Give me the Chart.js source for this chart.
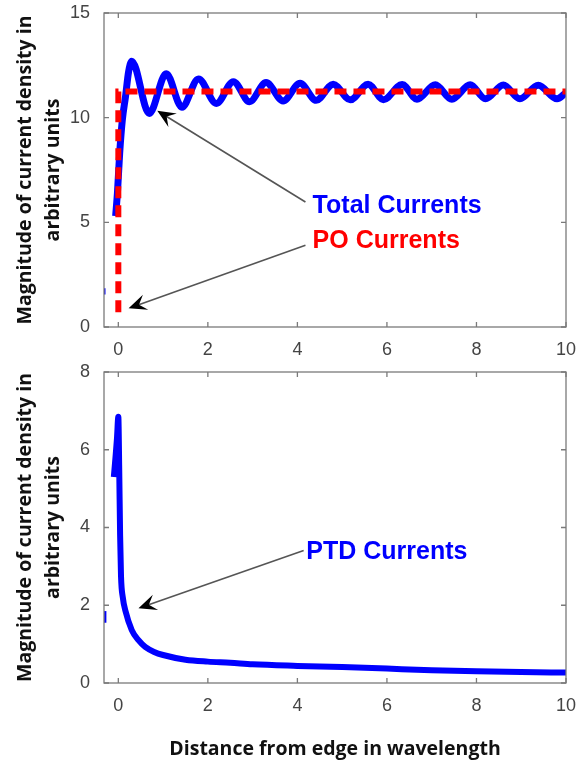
<!DOCTYPE html>
<html>
<head>
<meta charset="utf-8">
<script src="https://cdn.jsdelivr.net/npm/chart.js@4.4.0/dist/chart.umd.min.js"></script>
<style>
  body { margin: 0; background: #fff; }
  #wrap { position: relative; width: 576px; height: 765px; }
  canvas { position: absolute; left: 0; }
</style>
</head>
<body>
<div id="wrap">
  <canvas id="topChart" width="576" height="360" style="top:0"></canvas>
  <canvas id="bottomChart" width="576" height="405" style="top:360px"></canvas>
</div>
<script>
// tick labels
var xTicks = [0, 2, 4, 6, 8, 10];
var topYTicks = [0, 5, 10, 15];
var bottomYTicks = [0, 2, 4, 6, 8];

// total currents (rise, then peaks / troughs)
var totalX = [-0.06, -0.02, 0.03, 0.09, 0.16, 0.23, 0.30, 0.69, 1.07, 1.42, 1.79, 2.19, 2.57, 2.93, 3.30, 3.68,
              4.06, 4.42, 4.80, 5.18, 5.58, 5.92, 6.34, 6.67, 7.08, 7.45, 7.86, 8.20, 8.60, 8.97, 9.38, 9.80, 10.0];
var totalY = [5.3, 6.4, 8.3, 9.9, 11.0, 12.2, 12.7, 10.2, 12.1, 10.5, 11.85, 10.68, 11.72, 10.76, 11.68, 10.8,
              11.64, 10.83, 11.6, 10.85, 11.6, 10.86, 11.58, 10.88, 11.57, 10.88, 11.57, 10.9, 11.56, 10.9, 11.55, 10.9, 11.2];
var totalEdgeX = [-0.32, -0.32];
var totalEdgeY = [1.55, 1.85];

// PO currents
var poX = [0, 0, 10];
var poY = [0.7, 11.25, 11.25];

// PTD currents (bottom panel)
var ptdX = [-0.10, -0.03, 0.0, 0.02, 0.04, 0.06, 0.10, 0.16, 0.30, 0.45, 0.60, 0.80, 1.0, 1.5, 2.0, 2.5, 3.0,
            4.0, 5.0, 6.0, 7.0, 8.0, 9.0, 10.0];
var ptdY = [5.3, 6.3, 6.85, 5.5, 3.8, 2.75, 2.2, 1.85, 1.36, 1.1, 0.93, 0.8, 0.72, 0.6, 0.55, 0.52, 0.48,
            0.44, 0.41, 0.37, 0.33, 0.3, 0.28, 0.27];
var ptdEdgeX = [-0.3, -0.3];
var ptdEdgeY = [1.55, 1.85];

var labelsTop = ['Total Currents', 'PO Currents'];
var labelsBottom = ['PTD Currents'];

var BLUE = '#0000ff';
var RED = '#ff0000';
var TICK_GRAY = '#444';

function pts(xs, ys) {
  return xs.map(function(x, i) { return {x: x, y: ys[i]}; });
}

// notes are placed in data units, converted through the chart's scales
var topNotes = [
  {text: labelsTop[0], color: BLUE, at: [4.34, 5.43], from: [4.18, 5.97], to: [0.87, 10.33]},
  {text: labelsTop[1], color: RED, at: [4.34, 3.76], from: [4.18, 3.9], to: [0.23, 0.89]}
];
var bottomNotes = [
  {text: labelsBottom[0], color: BLUE, at: [4.2, 3.2], from: [4.14, 3.41], to: [0.45, 1.92]}
];

function drawArrow(ctx, x1, y1, x2, y2) {
  var a = Math.atan2(y2 - y1, x2 - x1);
  ctx.save();
  ctx.strokeStyle = '#555';
  ctx.lineWidth = 1.6;
  ctx.beginPath();
  ctx.moveTo(x1, y1);
  ctx.lineTo(x2 - Math.cos(a) * 10, y2 - Math.sin(a) * 10);
  ctx.stroke();
  ctx.translate(x2, y2);
  ctx.rotate(a);
  ctx.fillStyle = '#000';
  ctx.beginPath();
  ctx.moveTo(0, 0);
  ctx.lineTo(-18, -8);
  ctx.lineTo(-11, 0);
  ctx.lineTo(-18, 8);
  ctx.closePath();
  ctx.fill();
  ctx.restore();
}

var framePlugin = {
  id: 'frame',
  afterDraw: function(chart) {
    var ctx = chart.ctx, a = chart.chartArea;
    var xs = chart.scales.x, ys = chart.scales.y;
    ctx.save();
    ctx.strokeStyle = '#7a7a7a';
    ctx.lineWidth = 1.3;
    ctx.strokeRect(a.left, a.top, a.right - a.left, a.bottom - a.top);
    ctx.beginPath();
    xs.ticks.forEach(function(t) {
      var px = xs.getPixelForValue(t.value);
      ctx.moveTo(px, a.bottom); ctx.lineTo(px, a.bottom - 5);
      ctx.moveTo(px, a.top); ctx.lineTo(px, a.top + 5);
    });
    ys.ticks.forEach(function(t) {
      var py = ys.getPixelForValue(t.value);
      ctx.moveTo(a.left, py); ctx.lineTo(a.left + 5, py);
      ctx.moveTo(a.right, py); ctx.lineTo(a.right - 5, py);
    });
    ctx.stroke();

    var notes = chart.options.plugins.frame.notes || [];
    notes.forEach(function(n) {
      drawArrow(ctx, xs.getPixelForValue(n.from[0]), ys.getPixelForValue(n.from[1]),
                xs.getPixelForValue(n.to[0]), ys.getPixelForValue(n.to[1]));
      ctx.fillStyle = n.color;
      ctx.font = 'bold 25px "Liberation Sans", Arial, sans-serif';
      ctx.textBaseline = 'alphabetic';
      ctx.textAlign = 'left';
      ctx.fillText(n.text, xs.getPixelForValue(n.at[0]), ys.getPixelForValue(n.at[1]));
    });
    ctx.restore();
  }
};

var titleFont = {family: '"Open Sans"', size: 19.5, weight: 'bold', lineHeight: 1.4};
var tickFont = {family: '"Liberation Sans", Arial', size: 18};

function makeOptions(yTicks, yMax, notes, padTop, xAxisHeight, xTitle) {
  return {
    responsive: false,
    animation: false,
    events: [],
    layout: {padding: {left: 0, right: 10, top: padTop, bottom: 0}},
    plugins: {legend: {display: false}, tooltip: {enabled: false}, frame: {notes: notes}},
    scales: {
      x: {
        type: 'linear', min: -0.32, max: 10,
        grid: {display: false, drawTicks: false},
        border: {display: false},
        afterBuildTicks: function(s) { s.ticks = xTicks.map(function(v) { return {value: v}; }); },
        afterFit: function(s) { s.height = xAxisHeight; s.paddingLeft = 0; s.paddingRight = 0; },
        ticks: {padding: 12, color: TICK_GRAY, font: tickFont},
        title: xTitle ? {
          display: true, text: xTitle, color: '#111', font: titleFont,
          padding: {top: 0, bottom: 2}
        } : {display: false}
      },
      y: {
        type: 'linear', min: 0, max: yMax,
        grid: {display: false, drawTicks: false},
        border: {display: false},
        afterBuildTicks: function(s) { s.ticks = yTicks.map(function(v) { return {value: v}; }); },
        afterFit: function(s) { s.width = 104; s.paddingTop = 0; s.paddingBottom = 0; },
        ticks: {padding: 14, color: TICK_GRAY, font: tickFont},
        title: {
          display: true, text: ['Magnitude of current density in', 'arbitrary units'], color: '#111',
          font: titleFont, padding: {top: 12, bottom: 0}
        }
      }
    }
  };
}

new Chart(document.getElementById('topChart'), {
  type: 'scatter',
  data: {
    datasets: [
      {label: labelsTop[1], data: pts(poX, poY), showLine: true, borderColor: RED, borderWidth: 6,
       borderDash: [12, 7], pointRadius: 0, tension: 0, order: 0},
      {label: labelsTop[0], data: pts(totalX, totalY), showLine: true, borderColor: BLUE, borderWidth: 7,
       cubicInterpolationMode: 'monotone', pointRadius: 0, order: 1},
      {label: 'edge', data: pts(totalEdgeX, totalEdgeY), showLine: true, borderColor: BLUE, borderWidth: 3,
       pointRadius: 0, order: 2}
    ]
  },
  options: makeOptions(topYTicks, 15, topNotes, 13, 33, null),
  plugins: [framePlugin]
});

new Chart(document.getElementById('bottomChart'), {
  type: 'scatter',
  data: {
    datasets: [
      {label: labelsBottom[0], data: pts(ptdX, ptdY), showLine: true, borderColor: BLUE, borderWidth: 6,
       cubicInterpolationMode: 'monotone', pointRadius: 0},
      {label: 'edge', data: pts(ptdEdgeX, ptdEdgeY), showLine: true, borderColor: BLUE, borderWidth: 3,
       pointRadius: 0}
    ]
  },
  options: makeOptions(bottomYTicks, 8, bottomNotes, 12, 82, 'Distance from edge in wavelength'),
  plugins: [framePlugin]
});
</script>
</body>
</html>
